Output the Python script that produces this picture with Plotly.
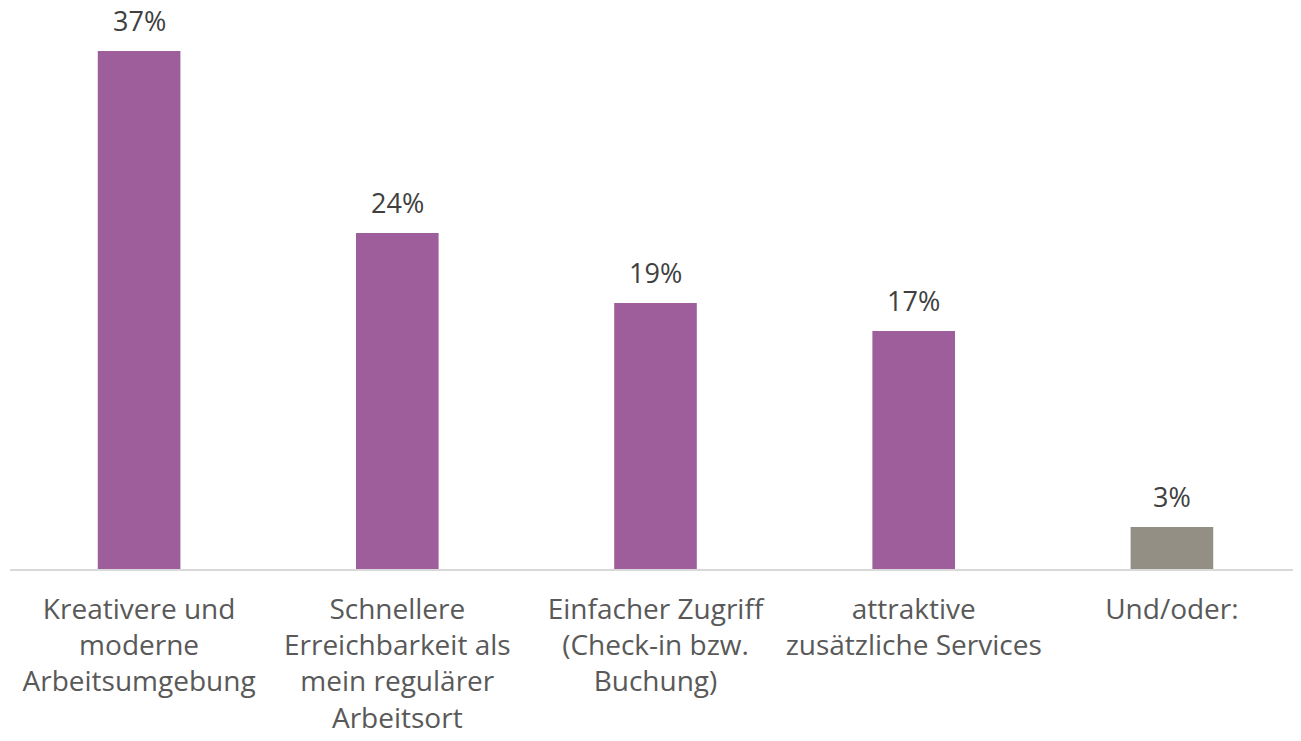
import plotly.graph_objects as go

categories = [
    "Kreativere und<br>moderne<br>Arbeitsumgebung",
    "Schnellere<br>Erreichbarkeit als<br>mein regulärer<br>Arbeitsort",
    "Einfacher Zugriff<br>(Check-in bzw.<br>Buchung)",
    "attraktive<br>zusätzliche Services",
    "Und/oder:",
]
values = [37, 24, 19, 17, 3]
labels = ["37%", "24%", "19%", "17%", "3%"]
bar_colors = ["#9E5E9B", "#9E5E9B", "#9E5E9B", "#9E5E9B", "#948F84"]

FONT = "Open Sans"

fig = go.Figure()
fig.add_bar(
    x=categories,
    y=values,
    marker_color=bar_colors,
    marker_line_width=0,
    width=0.32,
    hoverinfo="skip",
)

for cat, val, lab in zip(categories, values, labels):
    fig.add_annotation(
        x=cat,
        y=val,
        text=lab,
        showarrow=False,
        yanchor="bottom",
        yshift=11,
        borderpad=0,
        font=dict(family=FONT, size=27, color="#404040"),
    )

# page body has an 8px margin, so margins are offset to land the plot
fig.update_layout(
    width=1301,
    height=741,
    margin=dict(l=2, r=8, t=1, b=180),
    plot_bgcolor="white",
    paper_bgcolor="white",
    showlegend=False,
)
fig.update_xaxes(
    showline=True,
    linecolor="#D9D9D9",
    linewidth=2,
    showgrid=False,
    ticks="",
    ticklabelstandoff=14,
    tickfont=dict(family=FONT, size=28, color="#595959"),
    tickangle=0,
)
fig.update_yaxes(
    range=[0, 40],
    visible=False,
    showgrid=False,
    zeroline=False,
)

fig.write_html("out.html")
